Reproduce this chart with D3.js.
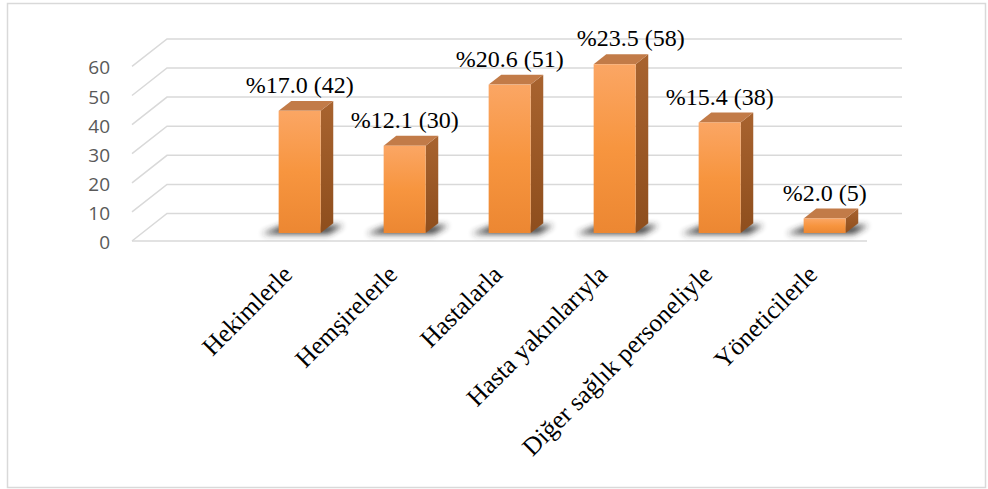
<!DOCTYPE html>
<html>
<head>
<meta charset="utf-8">
<script src="https://cdn.jsdelivr.net/npm/d3@7"></script>
<style>
  html, body { margin: 0; padding: 0; background: #fff; }
  svg { display: block; }
  .serif { font-family: "Liberation Serif", "Times New Roman", Tinos, "DejaVu Serif", serif; }
  .axis { font-family: "Open Sans", "Liberation Sans", sans-serif; }
</style>
</head>
<body>
<svg id="chart" width="988" height="489"></svg>
<script>
// Categories, counts and percentages
const categories = ["Hekimlerle", "Hemşirelerle", "Hastalarla", "Hasta yakınlarıyla", "Diğer sağlık personeliyle", "Yöneticilerle"];
const counts = [42, 30, 51, 58, 38, 5];
const percents = [17.0, 12.1, 20.6, 23.5, 15.4, 2.0];
const yTicks = [0, 10, 20, 30, 40, 50, 60];

const svg = d3.select("#chart");
const W = 988, H = 489;

// outer frame
svg.append("rect")
  .attr("x", 7.5).attr("y", 3.5).attr("width", W - 10).attr("height", H - 5)
  .attr("fill", "#fff").attr("stroke", "#D9D9D9").attr("stroke-width", 1.5);

// 3D box geometry: front plane of the floor and the depth vector
const frontLeft = 132, frontRight = 867, frontBase = 241;
const depth = { x: 35, y: -27.5 };
const barD1 = 0.29, barD2 = 0.65;   // bar front and back planes as fraction of depth

const y = d3.scaleLinear().domain([0, 60]).range([0, 174.6]);
// first slot of the category axis is left empty
const x = d3.scaleBand()
  .domain([""].concat(categories))
  .range([frontLeft, frontRight])
  .paddingInner(0.6).paddingOuter(0.3);

const defs = svg.append("defs");
const gFront = defs.append("linearGradient").attr("id", "gFront")
  .attr("x1", 0).attr("y1", 0).attr("x2", 0).attr("y2", 1);
gFront.append("stop").attr("offset", "0%").attr("stop-color", "#FBA664");
gFront.append("stop").attr("offset", "50%").attr("stop-color", "#F7953F");
gFront.append("stop").attr("offset", "100%").attr("stop-color", "#EC8732");
const gSide = defs.append("linearGradient").attr("id", "gSide")
  .attr("x1", 0).attr("y1", 0).attr("x2", 0).attr("y2", 1);
gSide.append("stop").attr("offset", "0%").attr("stop-color", "#A8632F");
gSide.append("stop").attr("offset", "100%").attr("stop-color", "#8E4E1D");
defs.append("filter").attr("id", "blur").attr("x", "-50%").attr("y", "-100%")
  .attr("width", "200%").attr("height", "300%")
  .append("feGaussianBlur").attr("stdDeviation", 3);

// gridlines: back wall line plus side wall diagonal per tick
const grid = svg.append("g").attr("stroke", "#D9D9D9").attr("stroke-width", 1.5).attr("fill", "none");
yTicks.forEach(t => {
  const yf = frontBase - y(t);
  const yb = yf + depth.y;
  grid.append("path")
    .attr("d", `M${frontLeft},${yf}L${frontLeft + depth.x},${yb}L${frontRight + depth.x},${yb}`);
});
// front edge of the floor
grid.append("line")
  .attr("x1", frontLeft).attr("x2", frontRight)
  .attr("y1", frontBase).attr("y2", frontBase);

// y axis labels
svg.append("g").attr("class", "axis").selectAll("text").data(yTicks).join("text")
  .attr("x", 110).attr("y", d => frontBase - y(d) + 1)
  .attr("text-anchor", "end").attr("dominant-baseline", "central")
  .attr("font-size", 19).attr("fill", "#595959")
  .text(d => d);

const data = categories.map((c, i) => ({ c, v: counts[i], p: percents[i] }));
const off1 = { x: depth.x * barD1, y: depth.y * barD1 };
const dd = { x: depth.x * (barD2 - barD1), y: depth.y * (barD2 - barD1) };
const baseY = frontBase + off1.y;

// floor shadows
svg.append("g").selectAll("path").data(data).join("path")
  .attr("filter", "url(#blur)")
  .attr("fill", "#2a2a2a").attr("opacity", 0.9)
  .attr("d", d => {
    const x0 = x(d.c) + off1.x, w = x.bandwidth();
    return `M${x0 - 17},${baseY + 1}L${x0 + w + 8},${baseY + 1}L${x0 + w + dd.x + 10},${baseY + dd.y + 2}L${x0 + dd.x - 8},${baseY + dd.y + 2}Z`;
  });

// bars
const bars = svg.append("g").selectAll("g").data(data).join("g");
bars.each(function (d) {
  const g = d3.select(this);
  const x0 = x(d.c) + off1.x, w = x.bandwidth();
  const top = baseY - y(d.v);
  g.append("path").attr("fill", "url(#gSide)")
    .attr("d", `M${x0 + w},${top}L${x0 + w + dd.x},${top + dd.y}L${x0 + w + dd.x},${baseY + dd.y}L${x0 + w},${baseY}Z`);
  g.append("path").attr("fill", "#C27B48")
    .attr("d", `M${x0},${top}L${x0 + dd.x},${top + dd.y}L${x0 + w + dd.x},${top + dd.y}L${x0 + w},${top}Z`);
  g.append("rect").attr("x", x0).attr("y", top).attr("width", w).attr("height", y(d.v))
    .attr("fill", "url(#gFront)");
});

// value labels; the tallest one sits a little to the right
const labelNudge = { "Hasta yakınlarıyla": 16 };
svg.append("g").attr("class", "serif").selectAll("text").data(data).join("text")
  .attr("x", d => x(d.c) + off1.x + x.bandwidth() / 2 + (labelNudge[d.c] || 0))
  .attr("y", d => baseY - y(d.v) + dd.y - 8)
  .attr("text-anchor", "middle")
  .attr("font-size", 24).attr("fill", "#000")
  .text(d => `%${d.p.toFixed(1)} (${d.v})`);

// category labels, rotated
svg.append("g").attr("class", "serif").selectAll("text").data(data).join("text")
  .attr("transform", d => `translate(${x(d.c) + off1.x + x.bandwidth() / 2 - 6},276) rotate(-45)`)
  .attr("text-anchor", "end")
  .attr("font-size", 25.5).attr("fill", "#000")
  .text(d => d.c);
</script>
</body>
</html>
